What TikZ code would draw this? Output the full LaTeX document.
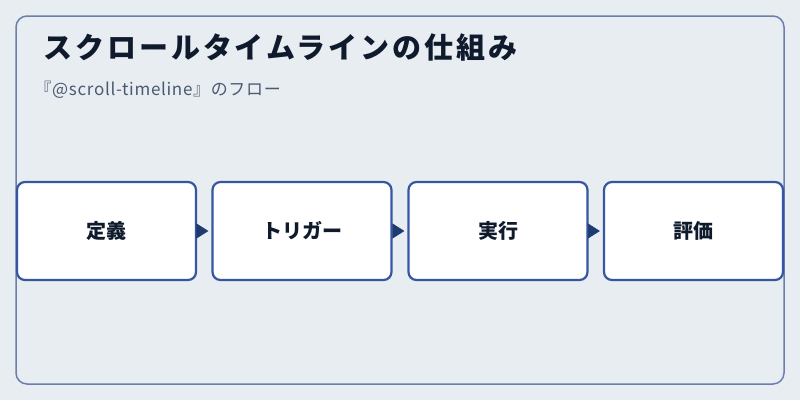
\documentclass[tikz,border=0pt]{standalone}
\usepackage{fontspec}
\setmainfont{Noto Sans CJK JP}
\usepackage{xcolor}
\usepackage{tikz}
\usetikzlibrary{positioning}
\usetikzlibrary{arrows.meta}

\definecolor{pagebg}{HTML}{E8EDF2}
\definecolor{panelline}{HTML}{6A7FAE}
\definecolor{boxline}{HTML}{3457A0}
\definecolor{titleink}{HTML}{0F1B2D}
\definecolor{subink}{HTML}{4A5A70}
\definecolor{arrowink}{HTML}{1F3A70}

\newfontfamily\titlefont[LetterSpace=10]{Noto Sans CJK JP}
\newfontfamily\subfont[LetterSpace=4]{Noto Sans CJK JP}

\begin{document}
\begin{tikzpicture}
  [
    x=1pt, y=-1pt,
    step box/.style={
       minimum width =179pt,
       minimum height=98pt,
       draw=boxline,
       line width=2.2pt,
       fill=white,
       rounded corners=8pt,
       text=titleink,
       font=\fontsize{20}{24}\selectfont\bfseries,
       inner sep=0pt
    },
    flow/.style={
       draw=arrowink,
       fill=arrowink,
       line width=0.8pt,
       shorten <=1pt,
       shorten >=3pt,
       -{Triangle[length=12pt,width=15pt]}
    }
  ]
  \useasboundingbox (0,0) rectangle (800,400);
  \fill [pagebg] (0,0) rectangle (800,400);
  \draw [panelline, line width=1.5pt, rounded corners=11pt]
        (16,16) rectangle (784,384);

  \node (title) at (40,47) [anchor=west, text=titleink,
        font=\titlefont\fontsize{29}{33}\selectfont\bfseries]
        {スクロールタイムラインの仕組み};
  \node (subtitle) at (31,90) [anchor=west, text=subink,
        font=\subfont\fontsize{17}{21}\selectfont]
        {『@scroll-timeline』のフロー};

  \node (define)  at (106.5,231) [step box] {定義};
  \node (trigger) at (302.0,231) [step box] {トリガー};
  \node (run)     at (498.0,231) [step box] {実行};
  \node (assess)  at (693.5,231) [step box] {評価};

  \draw [flow] (define)  -- (trigger);
  \draw [flow] (trigger) -- (run);
  \draw [flow] (run)     -- (assess);
\end{tikzpicture}
\end{document}
